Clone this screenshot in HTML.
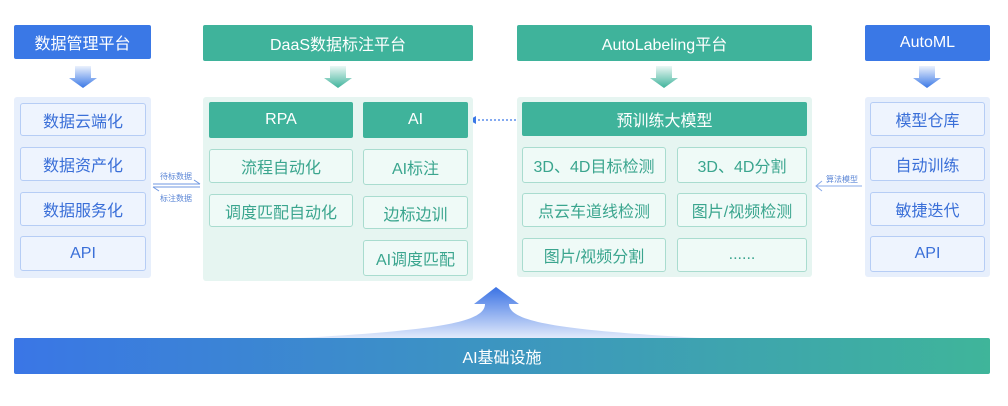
<!DOCTYPE html>
<html><head><meta charset="utf-8"><style>
*{margin:0;padding:0;box-sizing:border-box}
body{width:1008px;height:406px;background:#fff;position:relative;overflow:hidden;font-family:"Liberation Sans","Noto Sans CJK SC",sans-serif}
.a{position:absolute;display:flex;align-items:center;justify-content:center}
.hb{background:#3a78e6;color:#fff;font-size:16px;border-radius:2px}
.hg{background:#3fb39b;color:#fff;font-size:16px;border-radius:2px}
.pb{background:#e7effc;border-radius:3px}
.pg{background:#e6f5f1;border-radius:3px}
.ib{background:#eef4fe;border:1.5px solid #b6cdf5;color:#3a6fd8;font-size:16px;border-radius:3px}
.ig{background:#effaf7;border:1.5px solid #a9dccf;color:#3aa58e;font-size:16px;border-radius:3px}
.sm{position:absolute;font-size:8px;color:#5b86d6}
</style></head><body>
<div class="a hb" style="left:14px;top:25px;width:137px;height:34px">数据管理平台</div>
<div class="a hg" style="left:203px;top:25px;width:270px;height:36px">DaaS数据标注平台</div>
<div class="a hg" style="left:517px;top:25px;width:295px;height:36px">AutoLabeling平台</div>
<div class="a hb" style="left:865px;top:25px;width:125px;height:36px">AutoML</div>

<svg style="position:absolute;left:0;top:0" width="1008" height="406">
<defs>
<linearGradient id="db" x1="0" y1="0" x2="0" y2="1"><stop offset="0" stop-color="#3a78e6" stop-opacity="0.1"/><stop offset="1" stop-color="#3a78e6"/></linearGradient>
<linearGradient id="dg" x1="0" y1="0" x2="0" y2="1"><stop offset="0" stop-color="#3fb39b" stop-opacity="0.1"/><stop offset="1" stop-color="#3fb39b"/></linearGradient>
<linearGradient id="up" x1="0" y1="0" x2="0" y2="1"><stop offset="0" stop-color="#3a72e4"/><stop offset="1" stop-color="#3a72e4" stop-opacity="0.15"/></linearGradient>
</defs>
<g id="d"><path d="M75,66 h16 v12 h6 l-14,10 l-14,-10 h6z" fill="url(#db)"/></g>
<path d="M330,66 h16 v12 h6 l-14,10 l-14,-10 h6z" fill="url(#dg)"/>
<path d="M656,66 h16 v12 h6 l-14,10 l-14,-10 h6z" fill="url(#dg)"/>
<path d="M919,66 h16 v12 h6 l-14,10 l-14,-10 h6z" fill="url(#db)"/>
<path d="M496,287 L519,304 L509,304 C509,322 560,330 700,338 L300,338 C440,330 485,322 485,304 L474,304 Z" fill="url(#up)"/>
<line x1="153" y1="184" x2="200" y2="184" stroke="#6f97e0" stroke-width="1"/>
<line x1="200" y1="184" x2="194" y2="180" stroke="#6f97e0" stroke-width="1"/>
<line x1="153" y1="187" x2="200" y2="187" stroke="#6f97e0" stroke-width="1"/>
<line x1="153" y1="187" x2="159" y2="191" stroke="#6f97e0" stroke-width="1"/>
<line x1="474" y1="120" x2="520" y2="120" stroke="#3a78e6" stroke-width="1.2" stroke-dasharray="2,2"/>
<path d="M469,120 l7,-4 v8z" fill="#3a78e6"/>
<line x1="816" y1="186" x2="862" y2="186" stroke="#8aabea" stroke-width="1"/>
<path d="M822,181 L816,186 L822,191" fill="none" stroke="#8aabea" stroke-width="1"/>
</svg>
<div class="sm" style="left:160px;top:171px">待标数据</div>
<div class="sm" style="left:160px;top:193px">标注数据</div>
<div class="sm" style="left:826px;top:174px">算法模型</div>

<div class="a pb" style="left:14px;top:97px;width:137px;height:181px"></div>
<div class="a ib" style="left:20px;top:103px;width:126px;height:33px">数据云端化</div>
<div class="a ib" style="left:20px;top:147px;width:126px;height:34px">数据资产化</div>
<div class="a ib" style="left:20px;top:192px;width:126px;height:34px">数据服务化</div>
<div class="a ib" style="left:20px;top:236px;width:126px;height:35px">API</div>

<div class="a pg" style="left:203px;top:97px;width:270px;height:184px"></div>
<div class="a hg" style="left:209px;top:102px;width:144px;height:36px">RPA</div>
<div class="a hg" style="left:363px;top:102px;width:105px;height:36px">AI</div>
<div class="a ig" style="left:209px;top:149px;width:144px;height:34px">流程自动化</div>
<div class="a ig" style="left:209px;top:194px;width:144px;height:33px">调度匹配自动化</div>
<div class="a ig" style="left:363px;top:149px;width:105px;height:36px">AI标注</div>
<div class="a ig" style="left:363px;top:196px;width:105px;height:33px">边标边训</div>
<div class="a ig" style="left:363px;top:240px;width:105px;height:36px">AI调度匹配</div>

<div class="a pg" style="left:517px;top:97px;width:295px;height:180px"></div>
<div class="a hg" style="left:522px;top:102px;width:285px;height:34px">预训练大模型</div>
<div class="a ig" style="left:522px;top:147px;width:144px;height:36px">3D、4D目标检测</div>
<div class="a ig" style="left:677px;top:147px;width:130px;height:36px">3D、4D分割</div>
<div class="a ig" style="left:522px;top:193px;width:144px;height:34px">点云车道线检测</div>
<div class="a ig" style="left:677px;top:193px;width:130px;height:34px">图片/视频检测</div>
<div class="a ig" style="left:522px;top:238px;width:144px;height:34px">图片/视频分割</div>
<div class="a ig" style="left:677px;top:238px;width:130px;height:34px">......</div>

<div class="a pb" style="left:865px;top:97px;width:125px;height:180px"></div>
<div class="a ib" style="left:870px;top:102px;width:115px;height:34px">模型仓库</div>
<div class="a ib" style="left:870px;top:147px;width:115px;height:34px">自动训练</div>
<div class="a ib" style="left:870px;top:192px;width:115px;height:34px">敏捷迭代</div>
<div class="a ib" style="left:870px;top:236px;width:115px;height:36px">API</div>

<div class="a" style="left:14px;top:338px;width:976px;height:36px;background:linear-gradient(90deg,#3a76e6,#3fb59a);color:#fff;font-size:16px;border-radius:2px">AI基础设施</div>
</body></html>
